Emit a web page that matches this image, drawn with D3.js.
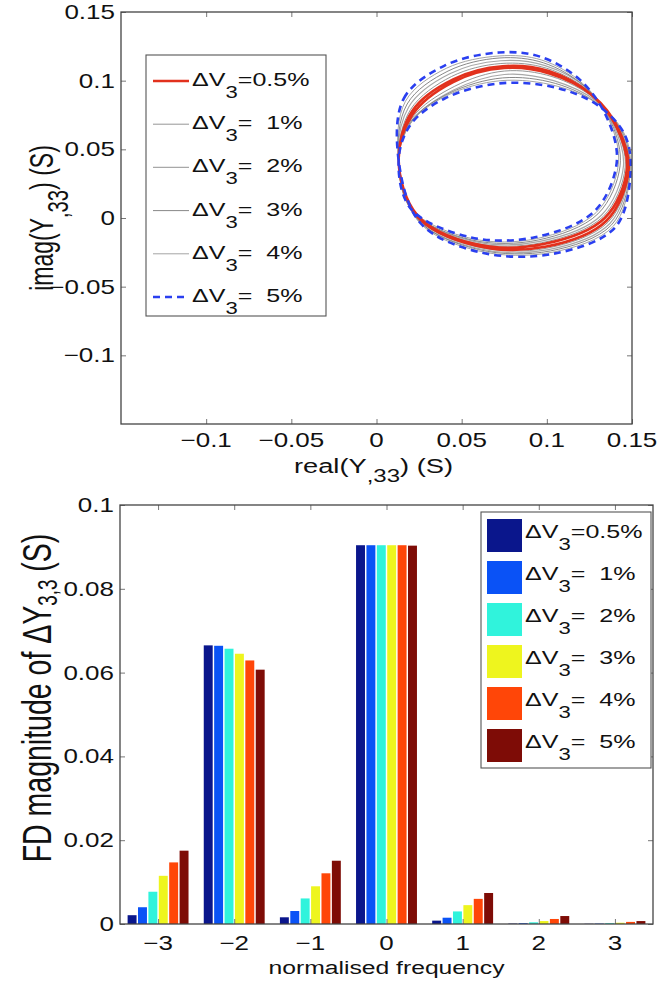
<!DOCTYPE html>
<html>
<head>
<meta charset="utf-8">
<script src="https://cdnjs.cloudflare.com/ajax/libs/d3/7.8.5/d3.min.js"></script>
<style>
  html, body { margin: 0; padding: 0; background: #fff; }
  svg text { font-family: "Liberation Sans", Arial, sans-serif; fill: #111; white-space: pre; }
</style>
</head>
<body>
<div id="chart"></div>
<script>
// ---- top plot: trajectories of Y33 in the complex plane (two laps each) ----
const loopLabels = ["0.5%", "  1%", "  2%", "  3%", "  4%", "  5%"];
const loop05 = [[0.013,0.042],[0.021,0.078],[0.045,0.101],[0.074,0.1105],[0.101,0.107],[0.126,0.090],[0.141,0.066],[0.147,0.036],[0.134,0.000],[0.098,-0.019],[0.058,-0.019],[0.024,0.002],
                [0.013,0.042],[0.021,0.075],[0.045,0.099],[0.075,0.1092],[0.102,0.105],[0.127,0.089],[0.142,0.065],[0.148,0.035],[0.135,-0.002],[0.099,-0.021],[0.058,-0.020],[0.024,0.001]];
const loop1 = [[0.013,0.042],[0.020,0.079],[0.044,0.103],[0.073,0.1125],[0.100,0.109],[0.125,0.092],[0.140,0.067],[0.146,0.037],[0.133,0.001],[0.097,-0.018],[0.057,-0.018],[0.023,0.003],
               [0.013,0.042],[0.021,0.073],[0.046,0.096],[0.075,0.107],[0.103,0.103],[0.128,0.087],[0.143,0.064],[0.148,0.034],[0.136,-0.003],[0.100,-0.022],[0.059,-0.021],[0.024,0.000]];
const loop2 = [[0.013,0.042],[0.019,0.081],[0.043,0.105],[0.073,0.1145],[0.099,0.111],[0.124,0.094],[0.139,0.068],[0.145,0.038],[0.132,0.002],[0.096,-0.017],[0.057,-0.017],[0.022,0.004],
               [0.013,0.042],[0.021,0.071],[0.045,0.093],[0.075,0.1045],[0.104,0.100],[0.129,0.085],[0.144,0.062],[0.148,0.033],[0.137,-0.004],[0.101,-0.023],[0.059,-0.022],[0.024,-0.001]];
const loop3 = [[0.013,0.042],[0.018,0.083],[0.042,0.107],[0.072,0.1165],[0.098,0.113],[0.122,0.096],[0.138,0.069],[0.143,0.038],[0.130,0.003],[0.095,-0.016],[0.056,-0.016],[0.021,0.005],
               [0.013,0.042],[0.020,0.070],[0.043,0.091],[0.074,0.102],[0.105,0.098],[0.130,0.083],[0.145,0.061],[0.1485,0.032],[0.138,-0.005],[0.102,-0.024],[0.060,-0.023],[0.025,-0.002]];
const loop4 = [[0.013,0.042],[0.017,0.085],[0.041,0.109],[0.072,0.118],[0.097,0.115],[0.121,0.098],[0.137,0.070],[0.142,0.039],[0.129,0.004],[0.094,-0.015],[0.056,-0.015],[0.021,0.006],
               [0.013,0.042],[0.020,0.069],[0.041,0.089],[0.073,0.100],[0.106,0.096],[0.131,0.082],[0.146,0.060],[0.1488,0.031],[0.139,-0.006],[0.103,-0.025],[0.060,-0.024],[0.025,-0.003]];
const loop5 = [[0.013,0.042],[0.016,0.087],[0.040,0.111],[0.072,0.1205],[0.096,0.1175],[0.120,0.100],[0.136,0.071],[0.141,0.040],[0.128,0.005],[0.093,-0.014],[0.055,-0.014],[0.020,0.007],
               [0.013,0.042],[0.020,0.068],[0.040,0.087],[0.072,0.098],[0.105,0.095],[0.130,0.082],[0.146,0.060],[0.149,0.030],[0.140,-0.007],[0.104,-0.026],[0.061,-0.025],[0.026,-0.004]];
const loops = [loop05, loop1, loop2, loop3, loop4, loop5];
const loopStyles = [
  { color: "#e2311d", width: 2.6, dash: null },
  { color: "#8a8a8a", width: 0.9, dash: null },
  { color: "#a8a8a8", width: 1.2, dash: null },
  { color: "#7a7a7a", width: 0.9, dash: null },
  { color: "#9a9a9a", width: 0.9, dash: null },
  { color: "#2a3ff0", width: 2.6, dash: "7,5" }
];
const topXTicks = [-0.1, -0.05, 0, 0.05, 0.1, 0.15];
const topYTicks = [-0.1, -0.05, 0, 0.05, 0.1, 0.15];

// ---- bottom plot: frequency-domain magnitude of dY33 ----
const freqs = [-3, -2, -1, 0, 1, 2, 3];
const seriesLabels = ["=0.5%", "=  1%", "=  2%", "=  3%", "=  4%", "=  5%"];
const mag05 = [0.0021, 0.0665, 0.0016, 0.0904, 0.0008, 0.0001, 0.00005];
const mag1  = [0.0040, 0.0664, 0.0031, 0.0904, 0.0015, 0.0002, 0.0001];
const mag2  = [0.0077, 0.0657, 0.0061, 0.0904, 0.0030, 0.0004, 0.0002];
const mag3  = [0.0115, 0.0645, 0.0090, 0.0904, 0.0045, 0.0007, 0.0003];
const mag4  = [0.0147, 0.0629, 0.0121, 0.0904, 0.0060, 0.0012, 0.0005];
const mag5  = [0.0175, 0.0607, 0.0151, 0.0903, 0.0074, 0.0019, 0.0007];
const magSeries = [mag05, mag1, mag2, mag3, mag4, mag5];
const barColors = ["#0a168c", "#0a52f6", "#30f3dc", "#eef51e", "#ff4608", "#7e0c06"];
const bottomYTicks = [0, 0.02, 0.04, 0.06, 0.08, 0.1];

const SX = 1.3;               // the figure text is horizontally stretched
const FONT = 20;
const MINUS = "\u2212";
const fmt = v => (v < 0 ? MINUS : "") + String(Math.abs(v));

const svg = d3.select("#chart").append("svg").attr("width", 668).attr("height", 983);

// text helper: parts = [[string, isSub], ...]
function addText(g, x, y, parts, opt = {}) {
  const size = opt.size || FONT;
  const rot = opt.rotate ? " rotate(-90)" : "";
  const t = g.append("text")
    .attr("transform", `translate(${x},${y}) scale(${opt.sx || SX},1)${rot}`)
    .attr("text-anchor", opt.anchor || "start")
    .attr("font-size", size);
  let shift = 0;
  const subDrop = opt.subDrop || size * 0.62;
  parts.forEach(([s, sub]) => {
    const want = sub ? subDrop : 0;
    t.append("tspan")
      .attr("dy", want - shift)
      .attr("font-size", sub ? size * (opt.subScale || 0.88) : size)
      .text(s);
    shift = want;
  });
  return t;
}

function drawBoxAxes(g, x, y, xTicks, yTicks) {
  const [x0, x1] = x.range();
  const [y0, y1] = y.range();
  g.append("g").attr("transform", `translate(0,${y0})`)
    .call(d3.axisBottom(x).tickValues(xTicks).tickSizeInner(-5).tickSizeOuter(0).tickFormat(""));
  g.append("g").attr("transform", `translate(0,${y1})`)
    .call(d3.axisTop(x).tickValues(xTicks).tickSizeInner(-5).tickSizeOuter(0).tickFormat(""));
  g.append("g").attr("transform", `translate(${x0},0)`)
    .call(d3.axisLeft(y).tickValues(yTicks).tickSizeInner(-5).tickSizeOuter(0).tickFormat(""));
  g.append("g").attr("transform", `translate(${x1},0)`)
    .call(d3.axisRight(y).tickValues(yTicks).tickSizeInner(-5).tickSizeOuter(0).tickFormat(""));
  g.selectAll(".domain").remove();
  g.selectAll(".tick line").attr("stroke", "#777").attr("stroke-width", 1);
  g.append("rect")
    .attr("x", x0).attr("y", y1).attr("width", x1 - x0).attr("height", y0 - y1)
    .attr("fill", "none").attr("stroke", "#444").attr("stroke-width", 1.3);
}

// ================= TOP PLOT =================
const xT = d3.scaleLinear().domain([-0.15, 0.15]).range([121, 632]);
const yT = d3.scaleLinear().domain([-0.15, 0.15]).range([424, 12]);
const gTop = svg.append("g");

svg.append("clipPath").attr("id", "clipTop").append("rect")
  .attr("x", 121).attr("y", 12).attr("width", 511).attr("height", 412);

const loopLine = d3.line().x(d => xT(d[0])).y(d => yT(d[1])).curve(d3.curveCatmullRomClosed.alpha(0.5));
const drawOrder = [1, 2, 3, 4, 0, 5];
gTop.append("g").attr("clip-path", "url(#clipTop)")
  .selectAll("path").data(drawOrder).join("path")
  .attr("d", i => loopLine(loops[i]))
  .attr("fill", "none")
  .attr("stroke", i => loopStyles[i].color)
  .attr("stroke-width", i => loopStyles[i].width)
  .attr("stroke-dasharray", i => loopStyles[i].dash);

drawBoxAxes(gTop, xT, yT, topXTicks, topYTicks);

topYTicks.forEach(v => addText(gTop, 115, yT(v) + 7, [[fmt(v)]], { anchor: "end" }));
topXTicks.forEach(v => addText(gTop, xT(v), 447, [[fmt(v)]], { anchor: "middle" }));
addText(gTop, xT(0) - 3, 473, [["real(Y"], [",33", true], [") (S)"]], { anchor: "middle", size: 21, subDrop: 9 });
addText(gTop, 53, yT(0), [["imag(Y"], [",33", true], [") (S)"]], { anchor: "middle", size: 23, subDrop: 10, rotate: true, sx: 1.45 });

// legend (top)
const legT = gTop.append("g");
legT.append("rect").attr("x", 146).attr("y", 55).attr("width", 180).attr("height", 261)
  .attr("fill", "#fff").attr("stroke", "#555").attr("stroke-width", 1.1);
const legTY = d3.scalePoint().domain(d3.range(6)).range([81, 297]);
loopStyles.forEach((s, i) => {
  legT.append("line")
    .attr("x1", 153).attr("x2", 189).attr("y1", legTY(i)).attr("y2", legTY(i))
    .attr("stroke", s.color).attr("stroke-width", s.width).attr("stroke-dasharray", s.dash);
  addText(legT, 192, legTY(i) + 5, [["\u0394V"], ["3", true], ["=" + loopLabels[i]]], { size: 19, sx: 1.32, subDrop: 12 });
});

// ================= BOTTOM PLOT =================
const x0B = d3.scaleBand().domain(freqs).range([120, 653]).paddingInner(0.2).paddingOuter(0.1);
const x1B = d3.scaleBand().domain(d3.range(6)).range([0, x0B.bandwidth()]).paddingInner(0.14);
const yB = d3.scaleLinear().domain([0, 0.1]).range([924, 505]);
const gBot = svg.append("g");

const bars = [];
magSeries.forEach((arr, s) => arr.forEach((v, k) => bars.push({ f: freqs[k], s, v })));
gBot.append("g").selectAll("rect").data(bars).join("rect")
  .attr("x", d => x0B(d.f) + x1B(d.s))
  .attr("width", x1B.bandwidth())
  .attr("y", d => yB(d.v))
  .attr("height", d => yB(0) - yB(d.v))
  .attr("fill", d => barColors[d.s]);

const xCenter = d3.scaleLinear().domain([-3.5, 3.5]).range([120, 653]);
drawBoxAxes(gBot, xCenter, yB, freqs, bottomYTicks);

bottomYTicks.forEach(v => addText(gBot, 114, yB(v) + 7, [[fmt(v)]], { anchor: "end" }));
freqs.forEach(f => addText(gBot, x0B(f) + x0B.bandwidth() / 2, 950, [[fmt(f)]], { anchor: "middle" }));
addText(gBot, 386.5, 974, [["normalised frequency"]], { anchor: "middle", size: 19 });
addText(gBot, 51, 698, [["FD magnitude of \u0394Y"], ["3,3", true], [" (S)"]], { anchor: "middle", size: 28.5, subDrop: 4, subScale: 0.66, rotate: true, sx: 1.42 });

// legend (bottom)
const legB = gBot.append("g");
legB.append("rect").attr("x", 481).attr("y", 512).attr("width", 170).attr("height", 256)
  .attr("fill", "#fff").attr("stroke", "#555").attr("stroke-width", 1.1);
const legBY = d3.scalePoint().domain(d3.range(6)).range([519, 729]);
barColors.forEach((c, i) => {
  legB.append("rect").attr("x", 487).attr("y", legBY(i)).attr("width", 35).attr("height", 33).attr("fill", c);
  addText(legB, 525, legBY(i) + 19, [["\u0394V"], ["3", true], [seriesLabels[i]]], { size: 19, sx: 1.32, subDrop: 12 });
});
</script>
</body>
</html>
